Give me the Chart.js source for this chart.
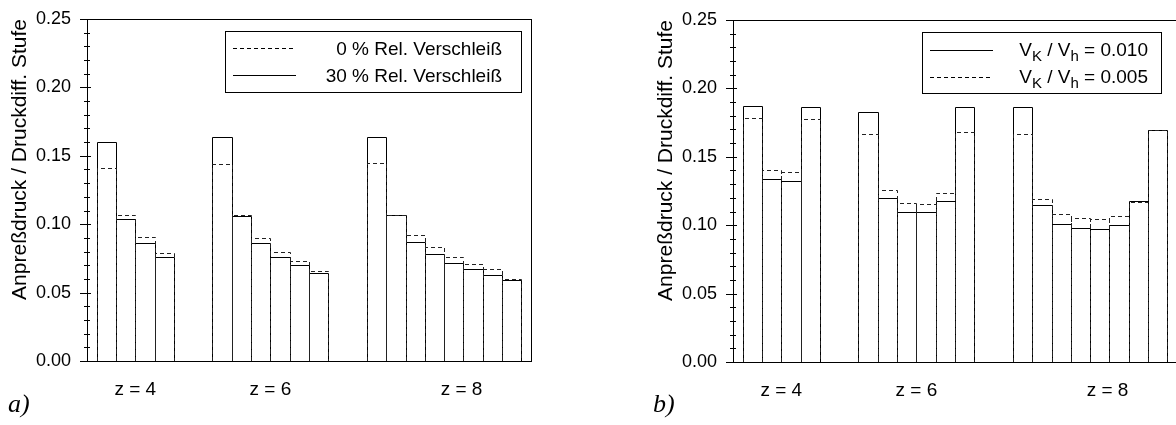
<!DOCTYPE html>
<html lang="de">
<head>
<meta charset="UTF-8">
<title>Anpreßdruck / Druckdiff. Stufe</title>
<style>
  html, body { margin: 0; padding: 0; background: #fff; }
  body { width: 1176px; height: 425px; overflow: hidden; position: relative; }
  canvas { position: absolute; }
  #chartA { left: 0; top: 0; }
  #chartB { left: 646px; top: 1px; }
  .tag { position: absolute; font: italic 26px "Liberation Serif", "DejaVu Serif", serif; color: #000; }
</style>
</head>
<body>
<canvas id="chartA" width="600" height="425"></canvas>
<canvas id="chartB" width="600" height="425"></canvas>
<div class="tag" style="left:8px; top:389px">a)</div>
<div class="tag" style="left:653px; top:389px">b)</div>

<script src="https://cdn.jsdelivr.net/npm/chart.js"></script>
<script>
    const FONT = '"Liberation Sans", Arial, sans-serif';

    // groups (number of stages) and their labels
    const groupLabels = ['z = 4', 'z = 6', 'z = 8'];
    const stagesPerGroup = [4, 6, 8];

    // a) relative wear, stage by stage
    const wear0 = [0.141, 0.107, 0.091, 0.079,
                   0.144, 0.107, 0.090, 0.080, 0.073, 0.066,
                   0.145, 0.107, 0.092, 0.083, 0.076, 0.071, 0.067, 0.060];
    const wear30 = [0.160, 0.104, 0.086, 0.076,
                    0.1635, 0.106, 0.086, 0.076, 0.070, 0.064,
                    0.164, 0.1067, 0.087, 0.078, 0.072, 0.067, 0.063, 0.059];

    // b) volume ratio V_K / V_h
    const ratio010 = [0.187, 0.134, 0.1325, 0.1863,
                      0.183, 0.120, 0.110, 0.1095, 0.118, 0.1866,
                      0.1866, 0.115, 0.101, 0.0976, 0.097, 0.100, 0.1175, 0.1695];
    const ratio005 = [0.178, 0.140, 0.1388, 0.1778,
                      0.167, 0.1256, 0.1164, 0.1153, 0.1237, 0.1683,
                      0.1664, 0.1193, 0.108, 0.105, 0.1046, 0.1068, 0.1173, 0.1693];

    // x slot of every bar: groups next to each other, two empty slots in between
    const slots = [];
    let next = 1;
    stagesPerGroup.forEach(n => {
        for (let i = 0; i < n; i++) slots.push(next + i);
        next += n + 2;
    });
    const points = vals => vals.map((v, i) => ({ x: slots[i], y: v }));

    // draws text, "_X" means X as subscript; right aligned at xr
    function drawRich(ctx, text, xr, y, size) {
        const parts = text.split(/_(.)/);
        const fonts = parts.map((p, i) => (i % 2 ? Math.round(size * 0.8) : size) + 'px ' + FONT);
        let total = 0;
        parts.forEach((p, i) => { ctx.font = fonts[i]; total += ctx.measureText(p).width; });
        let x = xr - total;
        ctx.textAlign = 'left';
        ctx.textBaseline = 'middle';
        parts.forEach((p, i) => {
            ctx.font = fonts[i];
            ctx.fillText(p, x, i % 2 ? y + 6 : y);
            x += ctx.measureText(p).width;
        });
    }

    // outlines of the bars, the frame, the axis ticks and the boxed legend
    const sketch = {
        id: 'sketch',
        afterDatasetsDraw(chart, args, opts) {
            const ctx = chart.ctx;
            const { left, top, right, bottom } = chart.chartArea;
            ctx.save();
            ctx.lineWidth = 1;

            // solid ones first, dashed ones on top
            const order = chart.data.datasets.map((d, i) => i).sort((a, b) =>
                (chart.data.datasets[a].dash ? 1 : 0) - (chart.data.datasets[b].dash ? 1 : 0));
            order.forEach(i => {
                const ds = chart.data.datasets[i];
                ctx.setLineDash(ds.dash || []);
                ctx.strokeStyle = ds.dash ? '#222' : '#000';
                chart.getDatasetMeta(i).data.forEach(bar => {
                    const { x, y, base, width } = bar.getProps(['x', 'y', 'base', 'width'], true);
                    const l = Math.round(x - width / 2) + 0.5;
                    const r = Math.round(x + width / 2) + 0.5;
                    const t = Math.round(y) + 0.5;
                    ctx.beginPath();
                    ctx.moveTo(l, base);
                    ctx.lineTo(l, t);
                    ctx.lineTo(r, t);
                    ctx.lineTo(r, base);
                    ctx.stroke();
                });
            });

            // frame
            ctx.setLineDash([]);
            ctx.strokeStyle = '#000';
            ctx.strokeRect(left + 0.5, top + 0.5, right - left, bottom - top);

            // y ticks, crossing the axis
            const ys = chart.scales.y;
            ys.ticks.forEach(t => {
                const py = Math.round(ys.getPixelForValue(t.value)) + 0.5;
                const major = t.label !== '';
                ctx.beginPath();
                ctx.moveTo(left - (major ? 7 : 3), py);
                ctx.lineTo(left + (major ? 4 : 3), py);
                ctx.stroke();
            });

            // legend box
            const bx = left + opts.left, by = top + opts.top;
            const bw = right - opts.right - bx;
            ctx.strokeRect(Math.round(bx) + 0.5, Math.round(by) + 0.5, Math.round(bw), opts.height);
            ctx.fillStyle = '#000';
            chart.data.datasets.forEach((ds, i) => {
                const ly = Math.round(by + opts.rows[i]) + 0.5;
                ctx.setLineDash(ds.dash || []);
                ctx.beginPath();
                ctx.moveTo(bx + 8, ly);
                ctx.lineTo(bx + 71, ly);
                ctx.stroke();
                ctx.setLineDash([]);
                drawRich(ctx, ds.label, bx + bw - opts.textInset, ly + opts.textDy, 19);
            });
            ctx.restore();
        }
    };

    function makeChart(id, datasets, legendBox) {
        return new Chart(document.getElementById(id), {
            type: 'bar',
            data: { datasets: datasets },
            options: {
                responsive: false,
                animation: false,
                layout: { padding: { left: 0, top: 19, right: 69, bottom: 0 } },
                plugins: {
                    legend: { display: false },
                    tooltip: { enabled: false },
                    sketch: legendBox
                },
                scales: {
                    x: {
                        type: 'linear',
                        min: 0,
                        max: 23,
                        offset: false,
                        grid: { display: false },
                        border: { display: false },
                        afterBuildTicks: s => { s.ticks = [2.5, 9.5, 19.4].map(v => ({ value: v })); },
                        ticks: {
                            autoSkip: false,
                            maxRotation: 0,
                            padding: 9,
                            color: '#000',
                            font: { family: FONT, size: 19 },
                            callback: (v, i) => groupLabels[i]
                        },
                        afterFit: s => { s.height = 64; }
                    },
                    y: {
                        min: 0,
                        max: 0.25,
                        grid: { display: false },
                        border: { display: false },
                        ticks: {
                            stepSize: 0.01,
                            autoSkip: false,
                            padding: 8,
                            color: '#000',
                            font: { family: FONT, size: 18 },
                            callback: v => (Math.round(v * 100) % 5 === 0 ? v.toFixed(2) : '')
                        },
                        title: {
                            display: true,
                            text: 'Anpreßdruck / Druckdiff. Stufe',
                            align: 'end',
                            color: '#000',
                            font: { family: FONT, size: 21 },
                            padding: { top: 8, bottom: 0 }
                        },
                        afterFit: s => { s.width = 87; }
                    }
                }
            },
            plugins: [sketch]
        });
    }

    const barStyle = {
        grouped: false,
        categoryPercentage: 1,
        barPercentage: 1,
        backgroundColor: 'rgba(0, 0, 0, 0)',
        borderWidth: 0
    };

    makeChart('chartA', [
        Object.assign({ label: '0 % Rel. Verschleiß', data: points(wear0), dash: [4, 3] }, barStyle),
        Object.assign({ label: '30 % Rel. Verschleiß', data: points(wear30) }, barStyle)
    ], { left: 138, right: 10, top: 12, height: 61, rows: [17, 44], textInset: 19, textDy: 1 });

    makeChart('chartB', [
        Object.assign({ label: 'V_K / V_h = 0.010', data: points(ratio010) }, barStyle),
        Object.assign({ label: 'V_K / V_h = 0.005', data: points(ratio005), dash: [4, 3] }, barStyle)
    ], { left: 189, right: 16, top: 12, height: 61, rows: [18, 45], textInset: 13, textDy: 0 });
</script>
</body>
</html>
